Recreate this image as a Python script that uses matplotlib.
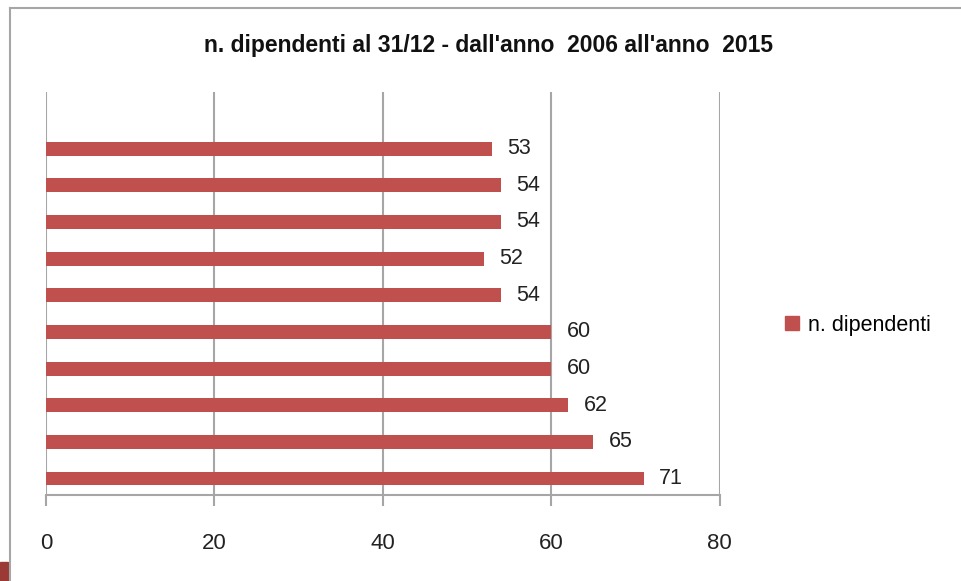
import matplotlib.pyplot as plt
from matplotlib.lines import Line2D
from matplotlib.patches import Rectangle, Patch

# valori dall'alto verso il basso come nel grafico
valori = [53, 54, 54, 52, 54, 60, 60, 62, 65, 71]
serie = 'n. dipendenti'
titolo = "n. dipendenti al 31/12 - dall'anno  2006 all'anno  2015"
xticks = [0, 20, 40, 60, 80]

plt.rcParams['font.family'] = ['Liberation Sans', 'DejaVu Sans']

fig = plt.figure(figsize=(9.61, 5.81), dpi=100)
ax = fig.add_axes([0.0479, 0.148, 0.701, 0.694])

ypos = list(range(len(valori)))[::-1]
ax.barh([y - 0.05 for y in ypos], valori, height=0.38, color='#C0504D', zorder=3)
for y, v in zip(ypos, valori):
    ax.annotate(str(v), xy=(v, y - 0.05), xytext=(11, 0), textcoords='offset points',
                va='center', ha='left', fontsize=15.5, color='#222222')

ax.set_xlim(0, 80)
ax.set_ylim(-0.5, len(valori) + 0.5)
ax.set_xticks(xticks)
ax.set_yticks([])
ax.grid(axis='x', color='#a6a6a6', linewidth=1.5, zorder=0)
for s in ['top', 'right', 'left']:
    ax.spines[s].set_visible(False)
ax.spines['bottom'].set_color('#a6a6a6')
ax.spines['bottom'].set_linewidth(1.5)
ax.tick_params(axis='x', length=8, width=1.5, color='#a6a6a6', pad=19,
               labelsize=16, labelcolor='#222222')

fig.text(0.508, 0.922, titolo, ha='center', va='center', fontsize=16.5,
         fontweight='bold', color='#111111')

fig.legend(handles=[Patch(color='#C0504D', label=serie)], loc='center left',
           bbox_to_anchor=(0.797, 0.44), frameon=False,
           handlelength=0.65, handleheight=0.65, handletextpad=0.4,
           prop={'size': 15.5})

# cornice del grafico ritagliato
fig.add_artist(Line2D([10 / 961, 10 / 961], [0, 1 - 8 / 581], transform=fig.transFigure,
                      color='#a6a6a6', linewidth=1.5))
fig.add_artist(Line2D([10 / 961, 1], [1 - 8 / 581, 1 - 8 / 581], transform=fig.transFigure,
                      color='#a6a6a6', linewidth=1.5))
fig.add_artist(Rectangle((0, 0), 8 / 961, 19 / 581, transform=fig.transFigure,
                         color='#9b3a35'))

fig.savefig('out.png', dpi=100)
